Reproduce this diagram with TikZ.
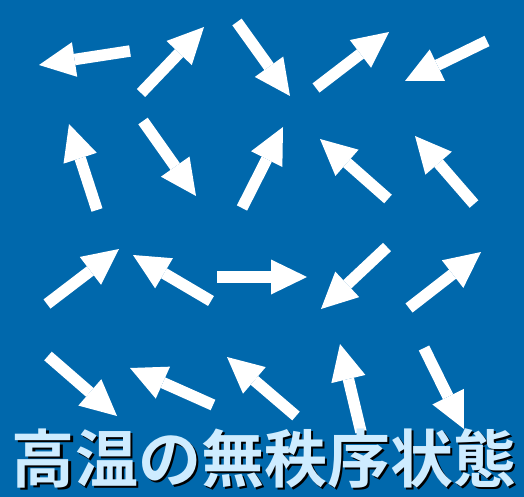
\documentclass[tikz,border=0pt]{standalone}
\usepackage{fontspec}
\newfontfamily\jpfont{Noto Sans CJK JP}[BoldFont={Noto Sans CJK JP Bold}]
\usetikzlibrary{arrows.meta}
\definecolor{bgblue}{RGB}{0,104,172}
\definecolor{txtblue}{RGB}{206,236,255}
\newcommand\shadowed[1]{\makebox[0pt][l]{\hspace{2.5pt}\raisebox{-2.5pt}{\color{black}#1}}#1}
\begin{document}
\begin{tikzpicture}[x=1pt,y=-1pt,line join=miter,
	spin/.style={white,line width=11.5pt,-{Triangle[length=36pt,width=35pt,line width=0pt]}}]
	\fill[bgblue] (0,0) rectangle (524,497);
	% spins: tail x/y, tip x/y
	\foreach \a/\b/\c/\d in {130/51/39/65, 141/93/204/27, 237/22/290/96, 316/88/389/32, 487/41/405/81,
		97/210/69/124, 143/121/196/196, 242/208/283/127, 388/199/320/139, 474/204/415/136,
		47/304/119/249, 211/301/133/255, 217/277/307/277, 387/247/321/309, 409/308/481/252,
		48/356/117/416, 213/405/130/368, 296/416/227/357, 361/432/340/344, 424/348/464/429}
	\draw[spin] (\a,\b)--(\c,\d);
	\path
	(264,482) node[anchor=base,inner sep=0pt,txtblue,font=\jpfont\bfseries\fontsize{63}{63}\selectfont] (title) {\shadowed{高温の無秩序状態}}
	;
\end{tikzpicture}
\end{document}
